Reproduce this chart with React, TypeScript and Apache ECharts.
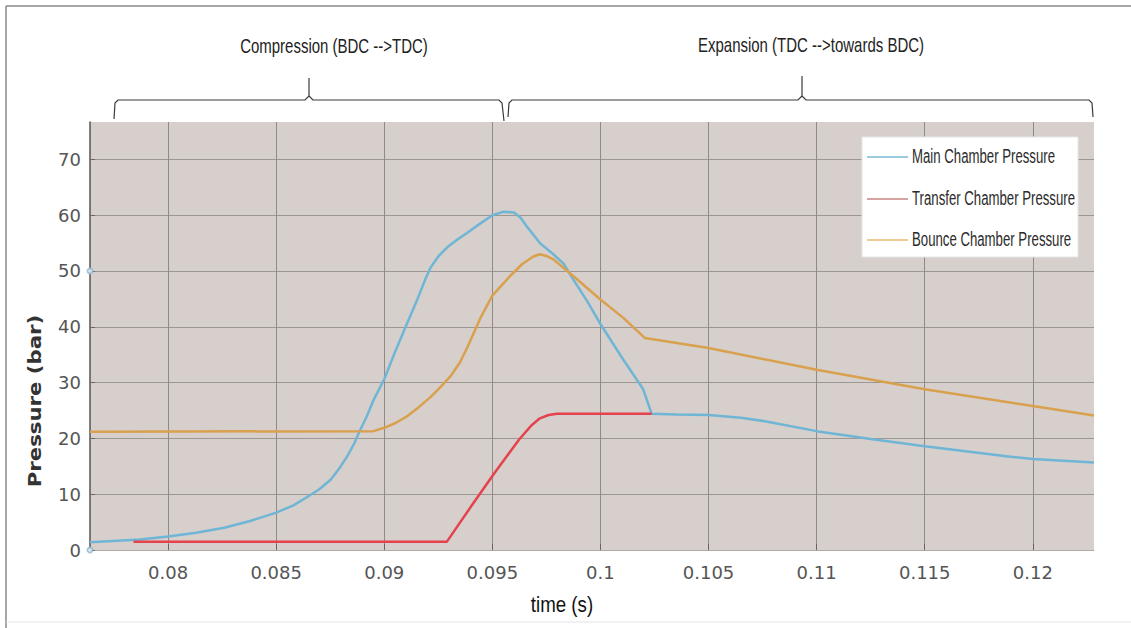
import React, { useEffect, useRef } from "react";
import * as echarts from "echarts";

// time (s), pressure (bar)
const mainChamber: [number, number][] = [
  [0.07639, 1.4], [0.0787, 1.9], [0.08, 2.4], [0.0813, 3.1], [0.0826, 4.0],
  [0.0838, 5.2], [0.085, 6.7], [0.0858, 8.0], [0.0864, 9.4], [0.087, 10.9],
  [0.08752, 12.6], [0.0879, 14.5], [0.08829, 16.8], [0.0886, 19.0], [0.08883, 21.0],
  [0.0892, 24.0], [0.08952, 27.0], [0.09, 30.6], [0.0905, 35.5], [0.091, 40.1],
  [0.09154, 45.0], [0.0919, 48.5], [0.09214, 50.6], [0.0925, 52.6], [0.0929, 54.2],
  [0.0934, 55.7], [0.09383, 56.8], [0.0944, 58.4], [0.095, 60.0], [0.0955, 60.6],
  [0.096, 60.5], [0.0963, 59.6], [0.09659, 58.0], [0.0969, 56.5], [0.0972, 55.0],
  [0.09782, 53.0], [0.0983, 51.3], [0.09874, 48.5], [0.0994, 44.5], [0.1, 40.5],
  [0.10106, 34.1], [0.10198, 28.8], [0.10237, 24.4], [0.1035, 24.3], [0.105, 24.2],
  [0.1065, 23.7], [0.10773, 23.0], [0.11, 21.3], [0.1125, 19.9], [0.115, 18.6],
  [0.11877, 16.8], [0.12, 16.3], [0.12283, 15.7],
];

const transferChamber: [number, number][] = [
  [0.0784, 1.5], [0.0929, 1.5], [0.09398, 7.6], [0.0951, 13.8], [0.09624, 19.8],
  [0.0968, 22.3], [0.0972, 23.6], [0.0976, 24.2], [0.098, 24.4], [0.10237, 24.4],
];

const bounceChamber: [number, number][] = [
  [0.07639, 21.2], [0.0895, 21.3], [0.09, 21.9], [0.09055, 22.8], [0.09107, 24.0],
  [0.0916, 25.6], [0.09214, 27.4], [0.0926, 29.2], [0.09306, 31.1], [0.0935, 33.6],
  [0.09383, 36.2], [0.09444, 41.5], [0.095, 45.6], [0.09582, 49.1], [0.0964, 51.3],
  [0.0969, 52.6], [0.0972, 53.0], [0.0975, 52.7], [0.09782, 52.1], [0.09874, 49.1],
  [0.1, 44.9], [0.10106, 41.6], [0.10205, 38.0], [0.105, 36.2], [0.11, 32.3],
  [0.115, 28.8], [0.12, 25.8], [0.12283, 24.1],
];

const axisArtifacts: [number, number][] = [[0.07639, 50], [0.07639, 0]];

const seriesNames = ["Main Chamber Pressure", "Transfer Chamber Pressure", "Bounce Chamber Pressure"];
const seriesColors = ["#6fb5d6", "#e5424d", "#d9a04e"];
const legendColors = ["#9ccbe2", "#d6a3a3", "#efcc92"];
const phaseLabels = ["Compression (BDC -->TDC)", "Expansion (TDC -->towards BDC)"];
const xRange = [0.07639, 0.12283];
const yRange = [0, 76.7];

export default function App() {
  const ref = useRef<HTMLDivElement>(null);
  useEffect(() => {
    document.body.style.margin = "0";
    const chart = echarts.init(ref.current!, null, { renderer: "svg" });
    const bracketStyle = { stroke: "#3a3a3a", lineWidth: 1.2, fill: null };
    const legendRows = [157, 199, 240];
    chart.setOption({
      animation: false,
      backgroundColor: "#ffffff",
      grid: {
        left: 90,
        right: 37,
        top: 122,
        bottom: 78,
        show: true,
        backgroundColor: "#d6cfcb",
        borderWidth: 0,
      },
      xAxis: {
        type: "value",
        min: xRange[0],
        max: xRange[1],
        splitNumber: 9,
        minInterval: 0.005,
        maxInterval: 0.005,
        axisLine: { show: true, onZero: false, lineStyle: { color: "#b0aaa6", width: 1 } },
        axisTick: { show: true, inside: true, length: 6, lineStyle: { color: "#666" } },
        axisLabel: {
          showMinLabel: false,
          showMaxLabel: false,
          margin: 13,
          color: "#555",
          fontSize: 18,
          fontFamily: "DejaVu Sans",
          formatter: (v: number) => String(+v.toFixed(4)),
        },
        splitLine: {
          show: true,
          showMinLine: false,
          showMaxLine: false,
          lineStyle: { color: "#8f8a86", width: 1 },
        },
      },
      yAxis: {
        type: "value",
        min: yRange[0],
        max: yRange[1],
        interval: 10,
        axisLine: { show: true, lineStyle: { color: "#555", width: 1.5 } },
        axisTick: { show: true, inside: true, length: 5, lineStyle: { color: "#666" } },
        axisLabel: {
          showMaxLabel: false,
          margin: 9,
          color: "#555",
          fontSize: 18,
          fontFamily: "DejaVu Sans",
        },
        splitLine: {
          show: true,
          showMinLine: false,
          showMaxLine: false,
          lineStyle: { color: "#9c9792", width: 1 },
        },
      },
      series: [
        {
          name: seriesNames[0],
          type: "line",
          data: mainChamber,
          showSymbol: false,
          smooth: false,
          lineStyle: { color: seriesColors[0], width: 2.5 },
          z: 3,
        },
        {
          name: seriesNames[1],
          type: "line",
          data: transferChamber,
          showSymbol: false,
          lineStyle: { color: seriesColors[1], width: 2.5 },
          z: 4,
        },
        {
          name: seriesNames[2],
          type: "line",
          data: bounceChamber,
          showSymbol: false,
          lineStyle: { color: seriesColors[2], width: 2.5 },
          z: 5,
        },
        {
          type: "scatter",
          data: axisArtifacts,
          symbol: "emptyCircle",
          symbolSize: 5,
          clip: false,
          itemStyle: { color: "#8fb7cf", borderWidth: 1 },
          z: 6,
        },
      ],
      graphic: [
        // outer frame
        { type: "line", shape: { x1: 6, y1: 6, x2: 1131, y2: 6 }, style: { stroke: "#8a8a8a", lineWidth: 1.5 } },
        { type: "line", shape: { x1: 6, y1: 6, x2: 6, y2: 628 }, style: { stroke: "#8a8a8a", lineWidth: 1.5 } },
        { type: "line", shape: { x1: 6, y1: 622, x2: 1131, y2: 622 }, style: { stroke: "#e4e4e4", lineWidth: 1 } },
        // phase titles
        {
          type: "text", x: 334, y: 46, scaleX: 0.75,
          style: { text: phaseLabels[0], font: "20px 'Liberation Sans'", fill: "#222", textAlign: "center", textVerticalAlign: "middle" },
        },
        {
          type: "text", x: 811, y: 45, scaleX: 0.75,
          style: { text: phaseLabels[1], font: "20px 'Liberation Sans'", fill: "#222", textAlign: "center", textVerticalAlign: "middle" },
        },
        // brackets
        { type: "polyline", shape: { points: [[114, 119], [115, 103], [118, 100], [305, 100], [309, 96], [309, 78]] }, style: bracketStyle },
        { type: "polyline", shape: { points: [[309, 96], [313, 100], [499, 100], [502, 103], [504, 121]] }, style: bracketStyle },
        { type: "polyline", shape: { points: [[508, 117], [509, 103], [512, 100], [798, 100], [802, 96], [802, 76]] }, style: bracketStyle },
        { type: "polyline", shape: { points: [[802, 96], [806, 100], [1089, 100], [1092, 103], [1093, 117]] }, style: bracketStyle },
        // legend box
        { type: "rect", shape: { x: 862, y: 137, width: 216, height: 120 }, style: { fill: "#ffffff", stroke: "#e6e6e6", lineWidth: 1 }, z: 100 },
        ...legendRows.flatMap((ly, i) => [
          { type: "line", shape: { x1: 867, y1: ly, x2: 908, y2: ly }, style: { stroke: legendColors[i], lineWidth: 2 }, z: 101 },
          {
            type: "text", x: 912, y: ly, scaleX: 0.66, z: 101,
            style: { text: seriesNames[i], font: "20px 'Liberation Sans'", fill: "#2b2b2b", textAlign: "left", textVerticalAlign: "middle" },
          },
        ]),
        // axis titles
        {
          type: "text", x: 35, y: 401, rotation: Math.PI / 2, scaleX: 1.18,
          style: { text: "Pressure (bar)", font: "bold 18px 'DejaVu Sans'", fill: "#333", textAlign: "center", textVerticalAlign: "middle" },
        },
        {
          type: "text", x: 562, y: 604, scaleX: 0.85,
          style: { text: "time (s)", font: "22px 'Liberation Sans'", fill: "#111", textAlign: "center", textVerticalAlign: "middle" },
        },
      ],
    });
    return () => chart.dispose();
  }, []);
  return <div ref={ref} style={{ width: 1131, height: 628 }} />;
}
